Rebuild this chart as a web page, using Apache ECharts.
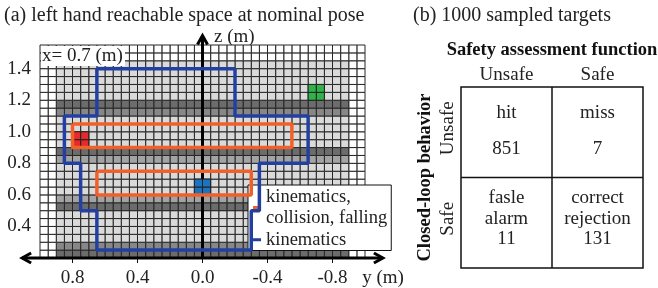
<!DOCTYPE html>
<html lang="en">
<head>
    <meta charset="UTF-8">
    <title>Reachable space</title>
    <script type="text/javascript" src="https://cdn.jsdelivr.net/npm/echarts@6/dist/echarts.min.js"></script>
    <style>
        html, body { margin: 0; padding: 0; background: #fff; }
    </style>
</head>
<body>
    <div id="container" style="width:658px;height:288px"></div>

    <script type="text/javascript">
        // cells are 0.05 m wide, y from -1 to 1, z from 0.2 to 1.55
        var cellSize = 0.05;
        var yRange = [-1.0, 1.0];
        var zRange = [0.2, 1.55];
        var reachY = [-0.9, 0.9];
        var reachTopZ = 1.45;
        // shade level of each grey row, bottom row first (0 light .. 3 dark)
        var rowShade = [3, 2, 0, 0, 0, 0, 3, 1, 0, 0, 0, 0, 1, 3, 0, 0, 0, 0, 2, 3, 0, 0, 0, 0, 0];

        // sampled target cells, lower corner [y, z]
        var targetRed = [[0.7, 0.9], [0.75, 0.9], [0.7, 0.95], [0.75, 0.95]];
        var targetGreen = [[-0.75, 1.2], [-0.7, 1.2], [-0.75, 1.25], [-0.7, 1.25]];
        var targetBlue = [[-0.05, 0.6], [0.0, 0.6], [-0.05, 0.65], [0.0, 0.65]];

        // outlines [y, z]
        var orangeUpper = [[0.8, 1.05], [-0.55, 1.05], [-0.55, 0.9], [0.8, 0.9], [0.8, 1.05]];
        var orangeLower = [[0.65, 0.75], [-0.3, 0.75], [-0.3, 0.6], [0.65, 0.6], [0.65, 0.75]];
        var blueOutline = [[0.65, 1.4], [-0.2, 1.4], [-0.2, 1.1], [-0.65, 1.1], [-0.65, 0.8],
            [-0.35, 0.8], [-0.35, 0.5], [-0.3, 0.5], [-0.3, 0.25], [0.65, 0.25], [0.65, 0.5],
            [0.75, 0.5], [0.75, 0.8], [0.85, 0.8], [0.85, 1.1], [0.65, 1.1], [0.65, 1.4]];

        var yTicks = [0.8, 0.4, 0.0, -0.4, -0.8];
        var zTicks = [0.4, 0.6, 0.8, 1.0, 1.2, 1.4];
        // [from y, from z, to y, to z, arrow at start]
        var axisArrows = [[1.11, 0.2, -1.11, 0.2, 1], [0, 0.2, 0, 1.61, 0]];

        // (b) confusion table
        var colNames = ['Unsafe', 'Safe'];
        var rowNames = ['Unsafe', 'Safe'];
        var cellNames = [['hit', 'miss'], ['fasle\nalarm', 'correct\nrejection']];
        var counts = [[851, 7], [11, 131]];

        var FONT = "'Liberation Serif', 'DejaVu Serif', serif";
        var shadeColors = ['#ffffff', '#dadada', '#a3a3a3', '#878787', '#6c6c6c'];
        var orange = '#f2602a';
        var navy = '#2340a0';

        var dom = document.getElementById('container');
        var myChart = echarts.init(dom);

        // build cell list [y0, z0, shade]
        var cells = [];
        var nCols = Math.round((yRange[1] - yRange[0]) / cellSize);
        var nRows = Math.round((zRange[1] - zRange[0]) / cellSize);
        for (var r = 0; r < nRows; r++) {
            for (var c = 0; c < nCols; c++) {
                var y0 = +(yRange[0] + c * cellSize).toFixed(2);
                var z0 = +(zRange[0] + r * cellSize).toFixed(2);
                var shade = 0;
                if (y0 >= reachY[0] - 1e-6 && y0 < reachY[1] - 1e-6 && z0 < reachTopZ - 1e-6) {
                    shade = rowShade[r] + 1;
                }
                cells.push([y0, z0, shade]);
            }
        }

        function cellRect(api) {
            var p0 = api.coord([api.value(0), api.value(1)]);
            var p1 = api.coord([api.value(0) + cellSize, api.value(1) + cellSize]);
            return {
                x: Math.min(p0[0], p1[0]), y: Math.min(p0[1], p1[1]),
                width: Math.abs(p1[0] - p0[0]), height: Math.abs(p1[1] - p0[1])
            };
        }

        function targetSeries(name, data, color) {
            return {
                name: name,
                type: 'custom',
                z: 4,
                data: data,
                encode: {x: 0, y: 1},
                renderItem: function (params, api) {
                    return {type: 'rect', shape: cellRect(api),
                        style: {fill: color, stroke: '#222', lineWidth: 1}};
                }
            };
        }

        function arrowHead(tip, from) {
            var dx = from[0] - tip[0], dy = from[1] - tip[1];
            var len = Math.sqrt(dx * dx + dy * dy);
            dx /= len; dy /= len;
            var L = 9, W = 5;
            return {
                type: 'polyline',
                shape: {points: [[tip[0] + dx * L - dy * W, tip[1] + dy * L + dx * W], tip,
                    [tip[0] + dx * L + dy * W, tip[1] + dy * L - dx * W]]},
                style: {stroke: '#000', fill: null, lineWidth: 3, lineJoin: 'miter'}
            };
        }

        // table layout
        var tLeft = 461, tTop = 87, cw = 91, ch = 90.5;
        var tableGraphics = [];
        tableGraphics.push({type: 'rect', shape: {x: tLeft, y: tTop, width: 2 * cw, height: 2 * ch},
            style: {fill: null, stroke: '#111', lineWidth: 1.5}});
        tableGraphics.push({type: 'line', shape: {x1: tLeft + cw, y1: tTop, x2: tLeft + cw, y2: tTop + 2 * ch},
            style: {stroke: '#111', lineWidth: 1.5}});
        tableGraphics.push({type: 'line', shape: {x1: tLeft, y1: tTop + ch, x2: tLeft + 2 * cw, y2: tTop + ch},
            style: {stroke: '#111', lineWidth: 1.5}});
        for (var i = 0; i < 2; i++) {
            tableGraphics.push({type: 'text', x: tLeft + cw * (i + 0.5), y: 75,
                style: {text: colNames[i], font: '19px ' + FONT, fill: '#222', align: 'center', verticalAlign: 'middle'}});
            tableGraphics.push({type: 'text', x: 448, y: tTop + ch * (i + 0.5) - 4, rotation: Math.PI / 2,
                style: {text: rowNames[i], font: '19px ' + FONT, fill: '#222', align: 'center', verticalAlign: 'middle'}});
            for (var j = 0; j < 2; j++) {
                var cx = tLeft + cw * (j + 0.5), cy = tTop + ch * i;
                var twoLines = cellNames[i][j].indexOf('\n') >= 0;
                tableGraphics.push({type: 'text', x: cx, y: cy + (twoLines ? 31 : 26),
                    style: {text: cellNames[i][j], font: '19px ' + FONT, lineHeight: 21.5, fill: '#222', align: 'center', verticalAlign: 'middle'}});
                tableGraphics.push({type: 'text', x: cx, y: cy + 62,
                    style: {text: String(counts[i][j]), font: '19px ' + FONT, fill: '#222', align: 'center', verticalAlign: 'middle'}});
            }
        }
        tableGraphics.push({type: 'text', x: tLeft + cw, y: 50,
            style: {text: 'Safety assessment function', font: 'bold 18.5px ' + FONT, fill: '#111', align: 'center', verticalAlign: 'middle'}});
        tableGraphics.push({type: 'text', x: 425, y: tTop + ch, rotation: Math.PI / 2,
            style: {text: 'Closed-loop behavior', font: 'bold 18.5px ' + FONT, fill: '#111', align: 'center', verticalAlign: 'middle'}});

        var labelGraphics = [
            {type: 'text', x: 4, y: 16, style: {text: '(a) left hand reachable space at nominal pose', font: '20px ' + FONT, fill: '#222', verticalAlign: 'middle'}},
            {type: 'text', x: 413, y: 16, style: {text: '(b) 1000 sampled targets', font: '20px ' + FONT, fill: '#222', verticalAlign: 'middle'}},
            {type: 'rect', z: 100, shape: {x: 41, y: 46, width: 84, height: 20}, style: {fill: '#fff'}},
            {type: 'text', z: 101, x: 42, y: 56, style: {text: 'x= 0.7 (m)', font: '19px ' + FONT, fill: '#222', verticalAlign: 'middle'}},
            {type: 'text', x: 214, y: 37, style: {text: 'z (m)', font: '19px ' + FONT, fill: '#222', verticalAlign: 'middle'}},
            {type: 'text', x: 383, y: 278, style: {text: 'y (m)', font: '19px ' + FONT, fill: '#222', align: 'center', verticalAlign: 'middle'}}
        ];

        var option = {
            animation: false,
            backgroundColor: '#fff',
            grid: {left: 40, right: 293, top: 45, bottom: 27, containLabel: false},
            xAxis: {
                type: 'value', min: yRange[0], max: yRange[1], inverse: true,
                axisLine: {show: false},
                splitLine: {show: false},
                axisTick: {show: true, customValues: yTicks, length: 5, lineStyle: {color: '#111', width: 1}},
                axisLabel: {customValues: yTicks, margin: 11, color: '#222', fontFamily: FONT, fontSize: 19,
                    formatter: function (v) { return (Math.abs(v) < 1e-9 ? 0 : v).toFixed(1); }}
            },
            yAxis: {
                type: 'value', min: zRange[0], max: zRange[1],
                axisLine: {show: false},
                splitLine: {show: false},
                axisTick: {show: true, customValues: zTicks, length: 8, lineStyle: {color: '#111', width: 1}},
                axisLabel: {customValues: zTicks, margin: 9, color: '#222', fontFamily: FONT, fontSize: 19,
                    formatter: function (v) { return v.toFixed(1); }}
            },
            legend: {
                data: ['kinematics,\ncollision, falling', 'kinematics'],
                orient: 'vertical', left: 248, top: 185,
                icon: 'rect', itemWidth: 8, itemHeight: 3, itemGap: 0,
                padding: [1, 4, 0, 5],
                borderColor: '#111', borderWidth: 1, backgroundColor: '#fff',
                selectedMode: false,
                textStyle: {fontFamily: FONT, fontSize: 18.5, color: '#222', lineHeight: 21.5}
            },
            graphic: {elements: labelGraphics.concat(tableGraphics)},
            series: [
                {
                    name: 'cells',
                    type: 'custom',
                    z: 1,
                    data: cells,
                    encode: {x: 0, y: 1},
                    renderItem: function (params, api) {
                        return {type: 'rect', shape: cellRect(api),
                            style: {fill: shadeColors[api.value(2)], stroke: '#262626', lineWidth: 1}};
                    }
                },
                {
                    name: 'axes',
                    type: 'custom',
                    z: 3,
                    clip: false,
                    data: axisArrows,
                    encode: {x: [0, 2], y: [1, 3]},
                    renderItem: function (params, api) {
                        var a = api.coord([api.value(0), api.value(1)]);
                        var b = api.coord([api.value(2), api.value(3)]);
                        var children = [{type: 'line', shape: {x1: a[0], y1: a[1], x2: b[0], y2: b[1]},
                            style: {stroke: '#000', lineWidth: 3}}, arrowHead(b, a)];
                        if (api.value(4)) children.push(arrowHead(a, b));
                        return {type: 'group', children: children};
                    }
                },
                targetSeries('red target', targetRed, '#e62a2c'),
                targetSeries('green target', targetGreen, '#2eb34b'),
                targetSeries('blue target', targetBlue, '#1c73bf'),
                {
                    name: 'kinematics,\ncollision, falling', type: 'line', z: 5, data: orangeUpper,
                    symbol: 'none', itemStyle: {color: orange}, lineStyle: {color: orange, width: 3.5}
                },
                {
                    name: 'kinematics,\ncollision, falling', type: 'line', z: 5, data: orangeLower,
                    symbol: 'none', itemStyle: {color: orange}, lineStyle: {color: orange, width: 3.5}
                },
                {
                    name: 'kinematics', type: 'line', z: 5, data: blueOutline,
                    symbol: 'none', itemStyle: {color: navy}, lineStyle: {color: navy, width: 3.5}
                }
            ]
        };

        myChart.setOption(option);
    </script>
</body>
</html>
